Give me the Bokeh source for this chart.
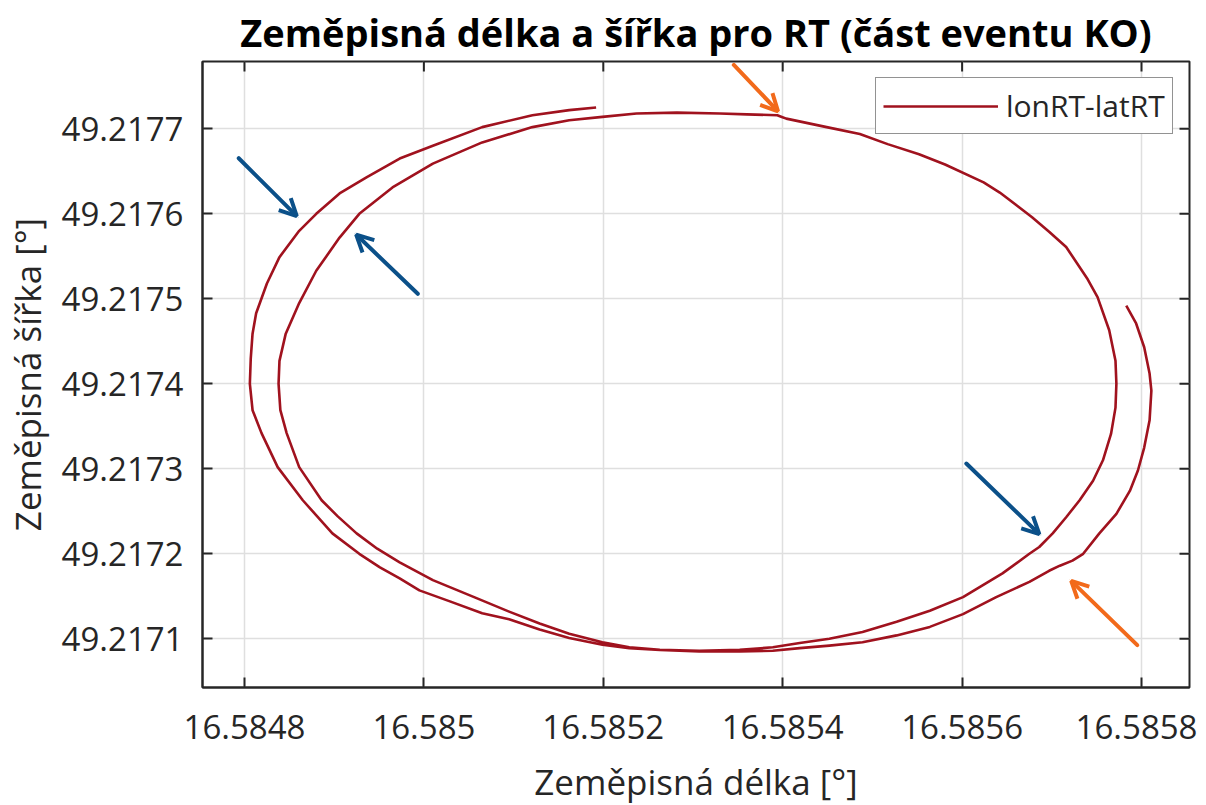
import math
from bokeh.plotting import figure
from bokeh.models import Range1d, FixedTicker, Arrow, OpenHead
from bokeh.embed import file_html
from bokeh.resources import INLINE

# ---- data (GPS track, micro-degree offsets) ----
LON0 = 16.5848
LAT0 = 49.2170
lon_udeg = [983, 994, 1003, 1009, 1011, 1009, 1003, 996, 987, 972,
            953, 935, 923, 909, 897, 875, 838, 801, 764, 727,
            689, 652, 619, 589, 552, 507, 463, 429, 399, 362,
            329, 295, 256, 210, 173, 148, 125, 104, 86, 61,
            47, 40, 38, 39, 46, 61, 80, 106, 128, 165,
            210, 265, 321, 362, 399, 437, 482, 530, 560, 594,
            599, 604, 649, 686, 717, 752, 781, 824, 842, 878,
            897, 916, 940, 951, 964, 971, 972, 971, 966, 957, 946,
            931, 916, 901, 886, 875, 845, 801, 764, 727, 689,
            652, 619, 589, 552, 507, 463, 429,
            399, 362, 329, 295, 265, 229, 195, 173, 151, 128,
            98, 65, 37, 19, 9, 6, 7, 9, 13, 25,
            39, 61, 80, 106, 136, 173, 210, 265, 321, 362, 392]
lat_udeg = [492, 471, 443, 412, 392, 357, 325, 298, 274, 247,
            224, 200, 192, 186, 180, 167, 149, 129, 114, 104,
            96, 92, 89, 86, 85, 85, 87, 90, 96, 106,
            118, 132, 149, 169, 190, 206, 224, 244, 263, 302,
            342, 369, 400, 427, 459, 495, 533, 572, 600, 631,
            659, 684, 702, 710, 714, 718, 719, 718, 717, 716,
            714, 712, 702, 694, 682, 670, 658, 637, 625, 596,
            579, 561, 523, 502, 463, 427, 400, 372, 341, 310, 286,
            263, 243, 224, 208, 200, 177, 149, 133, 120, 108,
            100, 95, 90, 87, 86, 87, 89,
            93, 101, 111, 123, 130, 144, 157, 171, 184, 200,
            224, 263, 302, 342, 369, 400, 430, 459, 483, 518,
            549, 580, 600, 624, 643, 665, 680, 702, 716, 722, 725]
lonRT = [LON0 + v * 1e-6 for v in lon_udeg]
latRT = [LAT0 + v * 1e-6 for v in lat_udeg]

x_ticks = [16.5848, 16.5850, 16.5852, 16.5854, 16.5856, 16.5858]
x_tick_labels = ["16.5848", "16.585", "16.5852", "16.5854", "16.5856", "16.5858"]
y_ticks = [49.2171, 49.2172, 49.2173, 49.2174, 49.2175, 49.2176, 49.2177]
y_tick_labels = ["49.2171", "49.2172", "49.2173", "49.2174", "49.2175", "49.2176", "49.2177"]

# axis limits
x_lim = (16.5847532, 16.5858535)
y_lim = (49.2170427, 49.2177792)

# annotation arrows (start lon/lat -> end lon/lat)
arrow_x0 = [16.5847936, 16.5849932, 16.5856047, 16.5853455, 16.5857953]
arrow_y0 = [49.2176654, 49.2175059, 49.2173062, 49.2177752, 49.2170925]
arrow_x1 = [16.5848583, 16.5849245, 16.5856861, 16.5853948, 16.5857216]
arrow_y1 = [49.2175972, 49.2175756, 49.2172231, 49.2177206, 49.2171682]
arrow_col = ["#0B5089", "#0B5089", "#0B5089", "#F26A1B", "#F26A1B"]

TXT = "#262626"
FONT = "Open Sans"

p = figure(frame_width=987, frame_height=626,
           min_border_left=195, min_border_right=8,
           min_border_top=56, min_border_bottom=111,
           x_range=Range1d(*x_lim), y_range=Range1d(*y_lim),
           output_backend="svg", toolbar_location=None,
           title="Zeměpisná délka a šířka pro RT (část eventu KO)")

p.title.text_font = FONT
p.title.text_font_style = "bold"
p.title.text_font_size = "38px"
p.title.text_color = "black"
p.title.align = "center"
p.title.standoff = 7

p.outline_line_color = TXT
p.outline_line_width = 2
p.outline_line_alpha = 1
p.background_fill_color = "white"
p.border_fill_color = "white"

xt = FixedTicker(ticks=x_ticks, minor_ticks=[])
yt = FixedTicker(ticks=y_ticks, minor_ticks=[])

for ax, tk, labs in ((p.xaxis[0], xt, x_tick_labels), (p.yaxis[0], yt, y_tick_labels)):
    ax.ticker = tk
    ax.major_label_overrides = dict(zip(tk.ticks, labs))
    ax.major_label_text_font = FONT
    ax.major_label_text_font_size = "33px"
    ax.major_label_text_color = TXT
    ax.axis_label_text_font = FONT
    ax.axis_label_text_font_size = "35px"
    ax.axis_label_text_font_style = "normal"
    ax.axis_label_text_color = TXT
    ax.axis_line_color = TXT
    ax.axis_line_width = 2
    ax.major_tick_line_color = TXT
    ax.major_tick_line_width = 2
    ax.major_tick_in = 10
    ax.major_tick_out = 0
    ax.minor_tick_line_color = None

p.xaxis[0].axis_label = "Zeměpisná délka [°]"
p.yaxis[0].axis_label = "Zeměpisná šířka [°]"
p.xaxis[0].major_label_standoff = 27
p.yaxis[0].major_label_standoff = 19
p.xaxis[0].axis_label_standoff = 16
p.yaxis[0].axis_label_standoff = 8

p.xgrid.ticker = xt
p.ygrid.ticker = yt
p.xgrid.grid_line_color = "#DFDFDF"
p.ygrid.grid_line_color = "#DFDFDF"
p.xgrid.grid_line_width = 1.5
p.ygrid.grid_line_width = 1.5

# inward tick marks on the top and right edges of the box (half clipped by frame)
p.scatter(x_ticks, [y_lim[1]] * len(x_ticks), marker="dash", size=20,
          angle=math.pi / 2, line_color=TXT, line_width=2)
p.scatter([x_lim[1]] * len(y_ticks), y_ticks, marker="dash", size=20,
          line_color=TXT, line_width=2)

p.line(lonRT, latRT, line_color="#A0121E", line_width=2.6, line_join="round",
       legend_label="lonRT-latRT")

for x0, y0, x1, y1, c in zip(arrow_x0, arrow_y0, arrow_x1, arrow_y1, arrow_col):
    p.add_layout(Arrow(x_start=x0, y_start=y0, x_end=x1, y_end=y1,
                       line_color=c, line_width=4, line_cap="round",
                       end=OpenHead(size=17, line_color=c, line_width=4)))

lg = p.legend[0]
lg.location = (673, 553)
lg.margin = 0
lg.padding = 7
lg.spacing = 0
lg.glyph_width = 115
lg.glyph_height = 30
lg.label_standoff = 8
lg.label_height = 30
lg.label_text_font = FONT
lg.label_text_font_size = "30px"
lg.label_text_color = TXT
lg.border_line_color = TXT
lg.border_line_width = 1.5
lg.background_fill_color = "white"
lg.background_fill_alpha = 1

open("out.html", "w").write(file_html(p, INLINE))
